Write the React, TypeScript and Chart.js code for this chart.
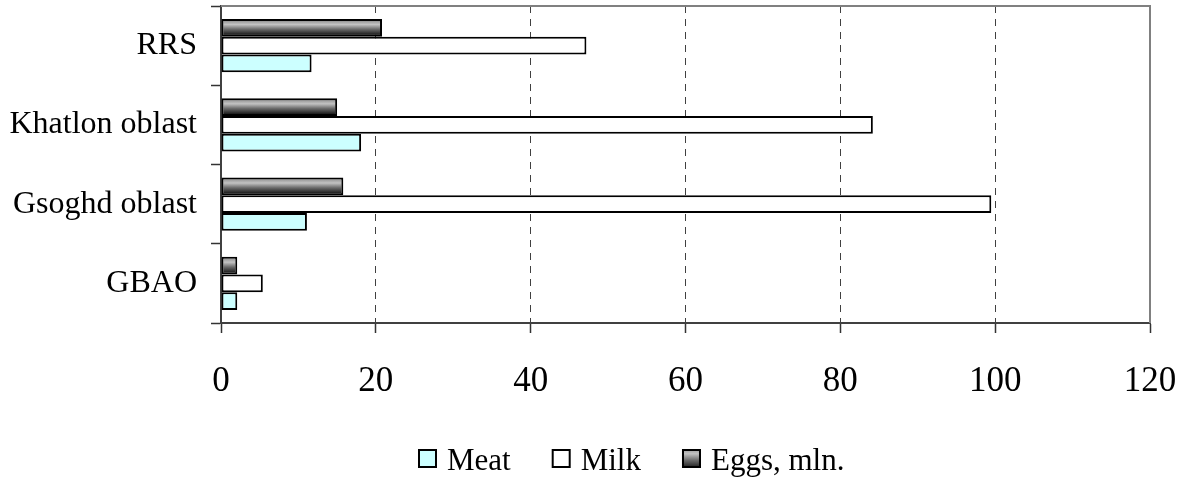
import React, { useEffect, useRef } from 'react';
import { Chart, registerables } from 'chart.js';

Chart.register(...registerables);

const categories = ['RRS', 'Khatlon oblast', 'Gsoghd oblast', 'GBAO'];
const meatValues = [11.7, 18.1, 11.1, 2.1];
const milkValues = [47.2, 84.2, 99.5, 5.4];
const eggsValues = [20.8, 15.0, 15.8, 2.1];
const seriesNames = ['Meat', 'Milk', 'Eggs, mln.'];
const xMin = 0;
const xMax = 120;
const xStep = 20;

const FONT = '"Liberation Serif", "Times New Roman", serif';
const MEAT_COLOR = '#ccffff';
const MILK_COLOR = '#ffffff';

function eggsGradient(ctx: CanvasRenderingContext2D, top: number, bottom: number) {
  const g = ctx.createLinearGradient(0, top, 0, bottom);
  g.addColorStop(0, '#9a9a9a');
  g.addColorStop(0.25, '#c2c2c2');
  g.addColorStop(0.6, '#6a6a6a');
  g.addColorStop(1, '#1a1a1a');
  return g;
}

const zeroPad = (s: any) => {
  s.paddingTop = 0;
  s.paddingBottom = 0;
  s.paddingLeft = 0;
  s.paddingRight = 0;
};

const decorPlugin = {
  id: 'decor',
  afterDatasetsDraw(chart: any) {
    const ctx: CanvasRenderingContext2D = chart.ctx;
    const meta = chart.getDatasetMeta(0);
    const bw = 2;
    ctx.save();
    meta.data.forEach((el: any) => {
      const { x, y, base, height } = el.getProps(['x', 'y', 'base', 'height'], true);
      const left = Math.min(base, x) + bw;
      const right = Math.max(base, x) - bw;
      const top = y - height / 2 + bw;
      const bottom = y + height / 2 - bw;
      if (right > left && bottom > top) {
        ctx.fillStyle = eggsGradient(ctx, top, bottom);
        ctx.fillRect(left, top, right - left, bottom - top);
      }
    });
    const ca = chart.chartArea;
    ctx.strokeStyle = '#808080';
    ctx.lineWidth = 2;
    ctx.beginPath();
    ctx.moveTo(ca.left, ca.top);
    ctx.lineTo(ca.right, ca.top);
    ctx.lineTo(ca.right, ca.bottom);
    ctx.stroke();
    ctx.restore();
  },
  afterDraw(chart: any) {
    const ctx: CanvasRenderingContext2D = chart.ctx;
    ctx.save();
    ctx.font = `31px ${FONT}`;
    ctx.textBaseline = 'alphabetic';
    ctx.textAlign = 'left';
    const box = 19;
    const boxTop = 449;
    const baseline = 470;
    let x = 418;
    const fills = [MEAT_COLOR, MILK_COLOR, null];
    seriesNames.forEach((name, i) => {
      const f = fills[i];
      ctx.fillStyle = f ? f : eggsGradient(ctx, boxTop, boxTop + box);
      ctx.fillRect(x, boxTop, box, box);
      ctx.strokeStyle = '#000';
      ctx.lineWidth = 2;
      ctx.strokeRect(x + 1, boxTop + 1, box - 2, box - 2);
      ctx.fillStyle = '#000';
      ctx.fillText(name, x + box + 10, baseline);
      x += box + 10 + ctx.measureText(name).width + 41;
    });
    ctx.restore();
  },
};

export default function App() {
  const ref = useRef<HTMLCanvasElement | null>(null);

  useEffect(() => {
    if (!ref.current) return;
    const chart = new Chart(ref.current, {
      type: 'bar',
      data: {
        labels: categories,
        datasets: [
          {
            label: seriesNames[2],
            data: eggsValues,
            backgroundColor: '#666666',
            borderColor: '#000000',
            borderWidth: 2,
            borderSkipped: false,
          },
          {
            label: seriesNames[1],
            data: milkValues,
            backgroundColor: MILK_COLOR,
            borderColor: '#000000',
            borderWidth: 2,
            borderSkipped: false,
          },
          {
            label: seriesNames[0],
            data: meatValues,
            backgroundColor: MEAT_COLOR,
            borderColor: '#000000',
            borderWidth: 2,
            borderSkipped: false,
          },
        ],
      },
      options: {
        indexAxis: 'y',
        animation: false,
        responsive: false,
        devicePixelRatio: 1,
        datasets: {
          bar: {
            categoryPercentage: 0.67,
            barPercentage: 1,
          },
        },
        layout: {
          padding: { top: 6, right: 34, left: 0, bottom: 0 },
        },
        plugins: {
          legend: { display: false },
          tooltip: { enabled: false },
          title: { display: false },
        },
        scales: {
          x: {
            type: 'linear',
            position: 'bottom',
            min: xMin,
            max: xMax,
            ticks: {
              stepSize: xStep,
              color: '#000',
              font: { family: FONT, size: 35 },
              padding: 28,
              maxRotation: 0,
            },
            grid: {
              color: (c: any) =>
                c.tick && c.tick.value > xMin && c.tick.value < xMax ? '#404040' : 'rgba(0,0,0,0)',
              lineWidth: 1,
              drawTicks: true,
              tickLength: 10,
              tickColor: '#333333',
              tickWidth: 1.5,
            },
            border: { display: true, color: '#404040', width: 2, dash: [7, 6] },
            afterFit: (s: any) => {
              s.height = 154;
              zeroPad(s);
            },
          },
          y: {
            type: 'category',
            offset: true,
            ticks: {
              color: '#000',
              font: { family: FONT, size: 32 },
              padding: 14,
            },
            grid: {
              offset: true,
              drawOnChartArea: false,
              drawTicks: true,
              tickLength: 10,
              tickColor: '#333333',
              tickWidth: 1.5,
            },
            border: { display: true, color: '#404040', width: 2 },
            afterFit: (s: any) => {
              s.width = 221;
              zeroPad(s);
            },
          },
        },
      },
      plugins: [decorPlugin],
    });
    return () => chart.destroy();
  }, []);

  return (
    <div style={{ position: 'fixed', left: 0, top: 0, width: 1184, height: 477, background: '#fff' }}>
      <canvas ref={ref} width={1184} height={477} style={{ display: 'block' }} />
    </div>
  );
}
